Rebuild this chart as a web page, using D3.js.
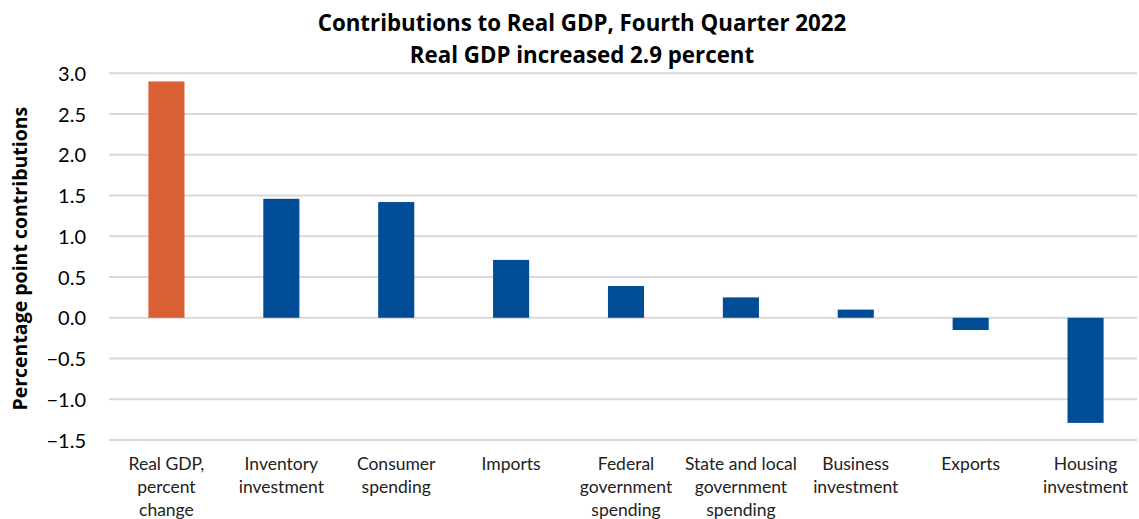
<!DOCTYPE html>
<html>
<head>
<meta charset="utf-8">
<script src="https://cdn.jsdelivr.net/npm/d3@7"></script>
<style>
  body { margin: 0; background: #fff; }
  text { fill: #000; }
</style>
</head>
<body>
<script>
// categories and values
var categories = [
  "Real GDP, percent change",
  "Inventory investment",
  "Consumer spending",
  "Imports",
  "Federal government spending",
  "State and local government spending",
  "Business investment",
  "Exports",
  "Housing investment"
];
// wrapped label lines, as in the picture
var labelLines = [
  ["Real GDP,", "percent", "change"],
  ["Inventory", "investment"],
  ["Consumer", "spending"],
  ["Imports"],
  ["Federal", "government", "spending"],
  ["State and local", "government", "spending"],
  ["Business", "investment"],
  ["Exports"],
  ["Housing", "investment"]
];
var values = [2.9, 1.46, 1.42, 0.71, 0.39, 0.25, 0.10, -0.15, -1.29];
var yTicks = [-1.5, -1.0, -0.5, 0.0, 0.5, 1.0, 1.5, 2.0, 2.5, 3.0];

var W = 1139, H = 519;
var plotLeft = 109, plotRight = 1143, plotTop = 73.3, plotBottom = 440;

var svg = d3.select("body").append("svg")
  .attr("width", W)
  .attr("height", H);

var x = d3.scaleBand().domain(categories).range([plotLeft, plotRight]).paddingInner(0.686).paddingOuter(0.343);
var y = d3.scaleLinear().domain([-1.5, 3.0]).range([plotBottom, plotTop]);

// gridlines
svg.append("g")
  .selectAll("line")
  .data(yTicks)
  .enter()
  .append("line")
  .attr("x1", plotLeft)
  .attr("x2", 1137)
  .attr("y1", function(d) { return y(d); })
  .attr("y2", function(d) { return y(d); })
  .attr("stroke", "#d9d9d9")
  .attr("stroke-width", 2);

// y axis labels
var yAxis = svg.append("g")
  .attr("transform", "translate(86,0)")
  .call(d3.axisLeft(y).tickValues(yTicks).tickFormat(d3.format(".1f")).tickSize(0).tickPadding(0));
yAxis.select(".domain").remove();
yAxis.selectAll("text")
  .style("font-family", "Lato, sans-serif")
  .style("font-size", "20px")
  .style("fill", "#000")
  .attr("dy", "0.36em");

// bars
svg.append("g")
  .selectAll("rect")
  .data(values)
  .enter()
  .append("rect")
  .attr("x", function(d, i) { return x(categories[i]); })
  .attr("width", x.bandwidth())
  .attr("y", function(d) { return y(Math.max(0, d)); })
  .attr("height", function(d) { return Math.abs(y(d) - y(0)); })
  .attr("fill", function(d, i) { return i === 0 ? "#d95f35" : "#004c97"; });

// category labels
var cat = svg.append("g")
  .selectAll("text")
  .data(labelLines)
  .enter()
  .append("text")
  .attr("text-anchor", "middle")
  .style("font-family", "Lato, sans-serif")
  .style("font-size", "17.5px")
  .style("fill", "#222");
cat.each(function(lines, i) {
  var t = d3.select(this);
  lines.forEach(function(s, k) {
    t.append("tspan")
      .attr("x", x(categories[i]) + x.bandwidth() / 2)
      .attr("y", 470 + k * 23)
      .text(s);
  });
});

// y title
svg.append("text")
  .attr("transform", "translate(27," + ((plotTop + plotBottom) / 2 + 2) + ") rotate(-90)")
  .attr("text-anchor", "middle")
  .style("font-family", "'Open Sans', sans-serif")
  .style("font-size", "19.5px")
  .style("font-weight", "bold")
  .text("Percentage point contributions");

// titles
svg.append("text")
  .attr("x", 582)
  .attr("y", 31)
  .attr("text-anchor", "middle")
  .style("font-family", "'Open Sans', sans-serif")
  .style("font-size", "22.3px")
  .style("font-weight", "bold")
  .text("Contributions to Real GDP, Fourth Quarter 2022");
svg.append("text")
  .attr("x", 582)
  .attr("y", 63)
  .attr("text-anchor", "middle")
  .style("font-family", "'Open Sans', sans-serif")
  .style("font-size", "22.3px")
  .style("font-weight", "bold")
  .text("Real GDP increased 2.9 percent");
</script>
</body>
</html>
